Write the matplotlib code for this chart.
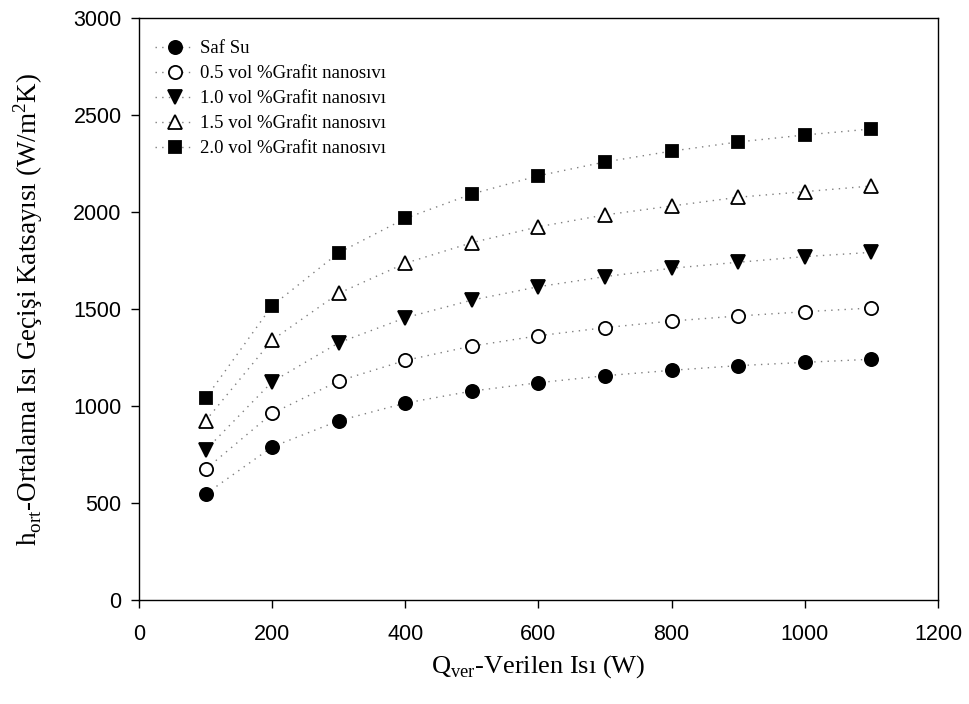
import matplotlib
matplotlib.use("Agg")
import matplotlib.pyplot as plt

q = [100, 200, 300, 400, 500, 600, 700, 800, 900, 1000, 1100]
saf_su = [546, 789, 924, 1015, 1077, 1120, 1156, 1184, 1208, 1225, 1241]
g05 = [674, 962, 1129, 1235, 1309, 1362, 1404, 1438, 1464, 1486, 1505]
g10 = [773, 1125, 1326, 1455, 1546, 1615, 1667, 1710, 1741, 1770, 1792]
g15 = [924, 1340, 1581, 1736, 1842, 1924, 1985, 2031, 2076, 2105, 2134]
g20 = [1040, 1517, 1790, 1967, 2093, 2187, 2258, 2314, 2361, 2397, 2428]

labels = ["Saf Su", "0.5 vol %Grafit nanosıvı", "1.0 vol %Grafit nanosıvı",
          "1.5 vol %Grafit nanosıvı", "2.0 vol %Grafit nanosıvı"]
xticks = [0, 200, 400, 600, 800, 1000, 1200]
yticks = [0, 500, 1000, 1500, 2000, 2500, 3000]

fig = plt.figure(figsize=(9.7, 7.04), dpi=100)
ax = fig.add_axes([139/970, 104/704, 799/970, 582/704])

styles = [
    dict(marker="o", mfc="black", ms=9.5),
    dict(marker="o", mfc="white", ms=9.5),
    dict(marker="v", mfc="black", ms=10),
    dict(marker="^", mfc="white", ms=10),
    dict(marker="s", mfc="black", ms=9),
]
for ys, lab, st in zip([saf_su, g05, g10, g15, g20], labels, styles):
    ax.plot(q, ys, linestyle=(0, (1, 3.8)), color="#808080", linewidth=1.0,
            marker=st["marker"], markerfacecolor=st["mfc"], markeredgecolor="black",
            markeredgewidth=1.3, markersize=st["ms"], label=lab)

ax.set_xlim(0, 1200)
ax.set_ylim(0, 3000)
ax.set_xticks(xticks)
ax.set_yticks(yticks)
for lbl in ax.get_xticklabels() + ax.get_yticklabels():
    lbl.set_fontfamily("Liberation Sans")
    lbl.set_fontsize(15.5)
ax.tick_params(axis="y", direction="out", length=5.5, width=1, colors="black", pad=7)
ax.tick_params(axis="x", direction="out", length=5.5, width=1, colors="black", pad=12)
for sp in ax.spines.values():
    sp.set_linewidth(1.0)
    sp.set_color("black")

ax.set_xlabel(r"Q$_{\mathregular{ver}}$-Verilen Isı (W)", fontfamily="Liberation Serif",
              fontsize=19, labelpad=6)
ax.set_ylabel(r"h$_{\mathregular{ort}}$-Ortalama Isı Geçişi Katsayısı (W/m$^{\mathregular{2}}$K)",
              fontfamily="Liberation Serif", fontsize=19.5, labelpad=20)

leg = ax.legend(loc="upper left", bbox_to_anchor=(0.02, 0.962), frameon=False,
                prop={"family": "Liberation Serif", "size": 13.5},
                handlelength=2.1, handletextpad=0.3, labelspacing=0.42,
                borderaxespad=0, borderpad=0)

fig.savefig("out.png", dpi=100)
